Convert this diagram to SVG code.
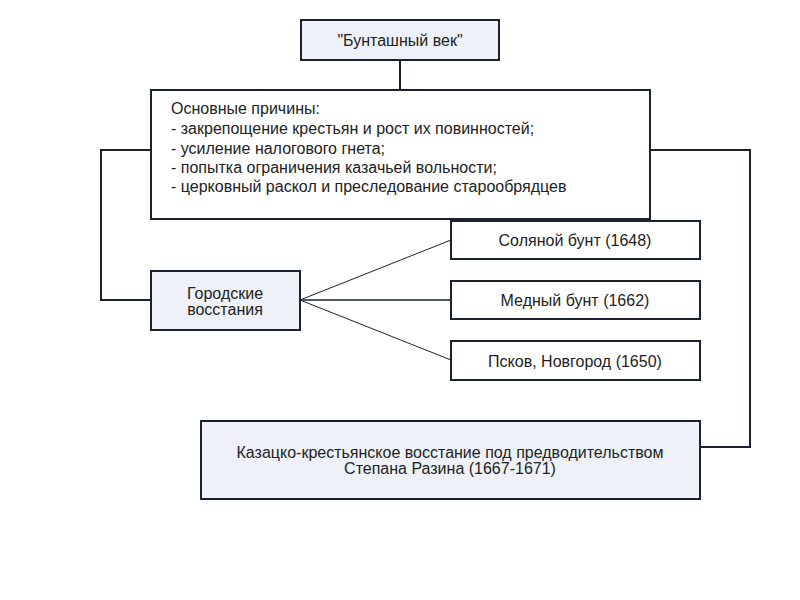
<svg xmlns="http://www.w3.org/2000/svg" width="800" height="600" viewBox="0 0 800 600">
<style>
.box{stroke:#1a2230;stroke-width:2}
.hl{fill:#eef2f8}
.wh{fill:#ffffff}
.t{font-family:"Liberation Sans",Arial,sans-serif;font-size:16px;fill:#222222}
.c{text-anchor:middle}
.ln{fill:none;stroke:#1a2230;stroke-width:2}
.thin{fill:none;stroke:#1a2230;stroke-width:1}
</style>
<rect width="800" height="600" fill="#ffffff"/>
<g id="connectors">
<path class="ln" d="M400,60 V90"/>
<path class="ln" d="M151,150 H101 V300 H151"/>
<path class="ln" d="M650,150 H750 V447 H700"/>
<path class="thin" d="M300,300 L451,240"/>
<path class="ln" d="M300,300 H451" style="stroke-width:1.5"/>
<path class="thin" d="M300,300 L451,360"/>
</g>
<g id="n_title">
<rect class="box hl" x="301" y="20" width="198" height="40"/>
<text class="t c" x="400" y="46">"Бунташный век"</text>
</g>
<g id="n_causes">
<rect class="box wh" x="151" y="90" width="499" height="129"/>
<text class="t" x="171" y="114">Основные причины:</text>
<text class="t" x="171" y="134">- закрепощение крестьян и рост их повинностей;</text>
<text class="t" x="171" y="154">- усиление налогового гнета;</text>
<text class="t" x="171" y="173">- попытка ограничения казачьей вольности;</text>
<text class="t" x="171" y="192">- церковный раскол и преследование старообрядцев</text>
</g>
<g id="n_city">
<rect class="box hl" x="151" y="271" width="149" height="59"/>
<text class="t c" x="225" y="299">Городские</text>
<text class="t c" x="225" y="315">восстания</text>
</g>
<g id="n_salt">
<rect class="box wh" x="451" y="221" width="249" height="38"/>
<text class="t c" x="575" y="246">Соляной бунт (1648)</text>
</g>
<g id="n_copper">
<rect class="box wh" x="451" y="281" width="249" height="38"/>
<text class="t c" x="575" y="306">Медный бунт (1662)</text>
</g>
<g id="n_pskov">
<rect class="box wh" x="451" y="341" width="249" height="39"/>
<text class="t c" x="575" y="367">Псков, Новгород (1650)</text>
</g>
<g id="n_razin">
<rect class="box hl" x="201" y="421" width="499" height="78"/>
<text class="t c" x="450" y="458">Казацко-крестьянское восстание под предводительством</text>
<text class="t c" x="450" y="474">Степана Разина (1667-1671)</text>
</g>
</svg>
